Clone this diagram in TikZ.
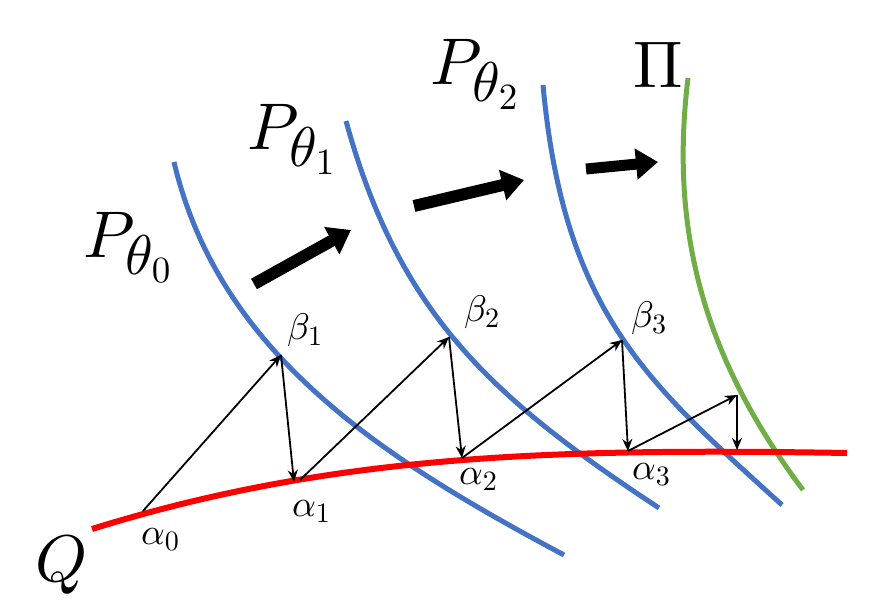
\documentclass[tikz,border=0pt]{standalone}
\DeclareFontShape{OML}{cmm}{m}{it}{<->cmmi10}{}
\DeclareFontShape{OT1}{cmr}{m}{n}{<->cmr10}{}
\DeclareFontShape{OMS}{cmsy}{m}{n}{<->cmsy10}{}
\DeclareFontShape{OMX}{cmex}{m}{n}{<->cmex10}{}
\DeclareMathSizes{66}{66}{56}{37}
\DeclareMathSizes{37}{37}{28}{20}
\usetikzlibrary{arrows.meta}
\definecolor{pblue}{HTML}{4472C4}
\definecolor{qred}{HTML}{FF0000}
\definecolor{pigreen}{HTML}{70AD47}
\begin{document}
\begin{tikzpicture}[x=1pt,y=-1pt,
  curve/.style={line width=5pt,line cap=butt},
  jump/.style={line width=1.8pt,-{Stealth[length=12pt,width=10pt]}},
  bigarrow/.style={line width=12pt,-{Triangle[length=22pt,width=30pt]}},
  biglabel/.style={inner sep=0pt,anchor=base west,font=\fontsize{66}{66}\selectfont},
  smalllabel/.style={inner sep=0pt,anchor=base west,font=\fontsize{37}{37}\selectfont}]
\useasboundingbox (0,0) rectangle (871,609);
% curves
\draw[curve,pblue] (174,162) .. controls (220,357) and (388,461) .. (564,555);
\draw[curve,pblue] (346,121) .. controls (399,314) and (492,398) .. (659,508);
\draw[curve,pblue] (543,85) .. controls (564,314) and (649,384) .. (782,505);
\draw[curve,pigreen] (688,78) .. controls (670,227) and (701,354) .. (803,490);
\draw[line width=6pt,qred] (92,529) .. controls (330,455) and (547,448) .. (847,453);
% points
\coordinate (a0) at (143,511);
\coordinate (b1) at (281,355);
\coordinate (a1) at (294,482);
\coordinate (a1s) at (300,480);
\coordinate (b2) at (449,337);
\coordinate (a2) at (462,458);
\coordinate (b3) at (622,340);
\coordinate (a3) at (628,451);
\coordinate (b4) at (737,395);
\coordinate (a4) at (737,450);
\draw[jump] (a0) -- (b1);
\draw[jump] (b1) -- (a1);
\draw[jump] (a1s) -- (b2);
\draw[jump] (b2) -- (a2);
\draw[jump] (a2) -- (b3);
\draw[jump] (b3) -- (a3);
\draw[jump] (a3) -- (b4);
\draw[jump] (b4) -- (a4);
% big arrows
\coordinate (t1) at (254,284); \coordinate (h1) at (351,230);
\coordinate (t2) at (414,206); \coordinate (h2) at (524,180);
\coordinate (t3) at (586,169); \coordinate (h3) at (658,162);
\draw[bigarrow] (t1) -- (h1);
\draw[bigarrow] (t2) -- (h2);
\draw[bigarrow,line width=11pt] (t3) -- (h3);
% labels
\node[biglabel] (lp0) at (83,258) {$P_{\theta_0}$};
\node[biglabel] (lp1) at (247,150) {$P_{\theta_1}$};
\node[biglabel] (lp2) at (430,85) {$P_{\theta_2}$};
\node[biglabel] (lpi) at (633,88) {$\Pi$};
\node[biglabel] (lq) at (35,582) {$Q$};
\node[smalllabel] (la0) at (141,545) {$\alpha_0$};
\node[smalllabel] (la1) at (292,517) {$\alpha_1$};
\node[smalllabel] (la2) at (459,485) {$\alpha_2$};
\node[smalllabel] (la3) at (632,480) {$\alpha_3$};
\node[smalllabel] (lb1) at (287,340) {$\beta_1$};
\node[smalllabel] (lb2) at (464,322) {$\beta_2$};
\node[smalllabel] (lb3) at (631,328) {$\beta_3$};
\end{tikzpicture}
\end{document}
